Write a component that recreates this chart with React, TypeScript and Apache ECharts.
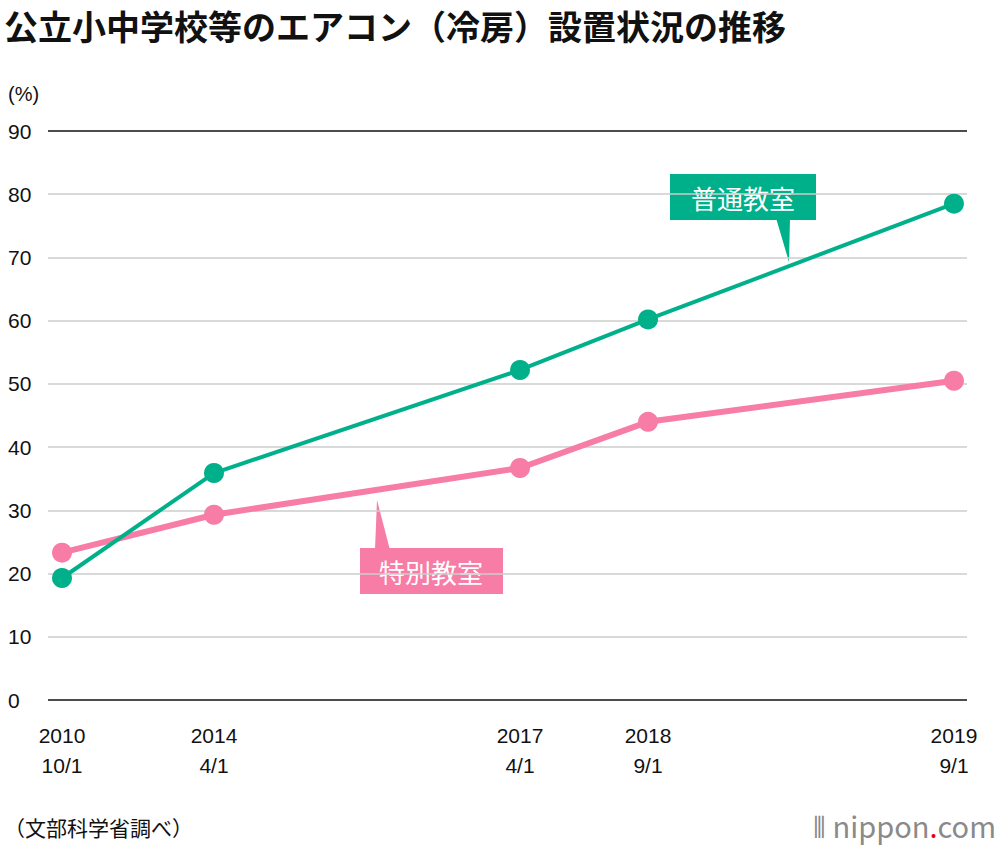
import { useEffect, useRef } from "react";
import * as echarts from "echarts";

const xPositions = [0, 17.04, 51.35, 65.7, 100];
const xLabels = ["2010\n10/1", "2014\n4/1", "2017\n4/1", "2018\n9/1", "2019\n9/1"];
const regularRooms = [19.3, 35.9, 52.2, 60.2, 78.5];
const specialRooms = [23.3, 29.3, 36.7, 44.0, 50.5];
const yTicks = [0, 10, 20, 30, 40, 50, 60, 70, 80, 90];

const GREEN = "#00b08b";
const PINK = "#f77ca6";
const FONT = "'Noto Sans CJK JP', 'Noto Sans', sans-serif";
const NUM_FONT = "'Liberation Sans', Arial, sans-serif";

export default function App() {
  const chartRef = useRef<HTMLDivElement>(null);
  useEffect(() => {
    if (!chartRef.current) return;
    const chart = echarts.init(chartRef.current, null, { renderer: "svg" });
    chart.setOption({
      animation: false,
      backgroundColor: "#fff",
      textStyle: { fontFamily: FONT },
      grid: { left: 48, right: 33, top: 131, bottom: 150 },
      xAxis: {
        type: "value",
        min: -1.57,
        max: 101.46,
        axisLine: { show: false },
        axisTick: { show: false },
        splitLine: { show: false },
        axisLabel: {
          customValues: xPositions,
          formatter: (v: number) => xLabels[xPositions.indexOf(v)] ?? "",
          fontSize: 21,
          lineHeight: 30,
          color: "#111",
          margin: 20,
          fontFamily: NUM_FONT,
        },
      },
      yAxis: {
        type: "value",
        min: 0,
        max: 90,
        interval: 10,
        axisLine: { show: false },
        axisTick: { show: false },
        axisLabel: {
          fontSize: 21,
          color: "#111",
          align: "left",
          margin: 40,
          fontFamily: NUM_FONT,
          formatter: (v: number) => (yTicks.includes(v) ? String(v) : ""),
        },
        splitLine: {
          lineStyle: {
            color: ["#111", "#ccc", "#ccc", "#ccc", "#ccc", "#ccc", "#ccc", "#ccc", "#ccc", "#111"],
            width: 1.5,
          },
        },
      },
      series: [
        {
          name: "特別教室",
          type: "line",
          data: xPositions.map((x, i) => [x, specialRooms[i]]),
          symbol: "circle",
          symbolSize: 20,
          lineStyle: { color: PINK, width: 6 },
          itemStyle: { color: PINK },
        },
        {
          name: "普通教室",
          type: "line",
          data: xPositions.map((x, i) => [x, regularRooms[i]]),
          symbol: "circle",
          symbolSize: 20,
          lineStyle: { color: GREEN, width: 4 },
          itemStyle: { color: GREEN },
        },
      ],
      graphic: [
        { type: "text", left: 4, top: 8, style: { text: "公立小中学校等のエアコン（冷房）設置状況の推移", fontSize: 34, fontWeight: "bold", fill: "#111", fontFamily: FONT } },
        { type: "text", left: 8, top: 84, style: { text: "(%)", fontSize: 20, fill: "#111", fontFamily: NUM_FONT } },
        { type: "polygon", shape: { points: [[776, 218], [790, 218], [789, 262]] }, style: { fill: GREEN } },
        { type: "rect", shape: { x: 670, y: 174, width: 146, height: 46 }, style: { fill: GREEN } },
        { type: "text", x: 743, y: 197, style: { text: "普通教室", fontSize: 26, fill: "#fff", align: "center", verticalAlign: "middle", fontFamily: FONT } },
        { type: "polygon", shape: { points: [[375, 550], [390, 550], [377, 500]] }, style: { fill: PINK } },
        { type: "rect", shape: { x: 360, y: 548, width: 143, height: 46 }, style: { fill: PINK } },
        { type: "text", x: 431, y: 571, style: { text: "特別教室", fontSize: 26, fill: "#fff", align: "center", verticalAlign: "middle", fontFamily: FONT } },
        { type: "text", left: 4, top: 816, style: { text: "（文部科学省調べ）", fontSize: 21, fill: "#111", fontFamily: FONT } },
        {
          type: "text", right: 4, top: 810,
          style: {
            text: "{g|⦀ nippon}{r|.}{g|com}",
            fontFamily: FONT,
            rich: {
              g: { fontSize: 29, fill: "#8a8a8a", fontFamily: FONT },
              r: { fontSize: 29, fill: "#e60012", fontFamily: FONT },
            },
          },
        },
      ],
    });
    return () => chart.dispose();
  }, []);
  return <div ref={chartRef} style={{ position: "absolute", left: 0, top: 0, width: 1000, height: 850 }} />;
}
